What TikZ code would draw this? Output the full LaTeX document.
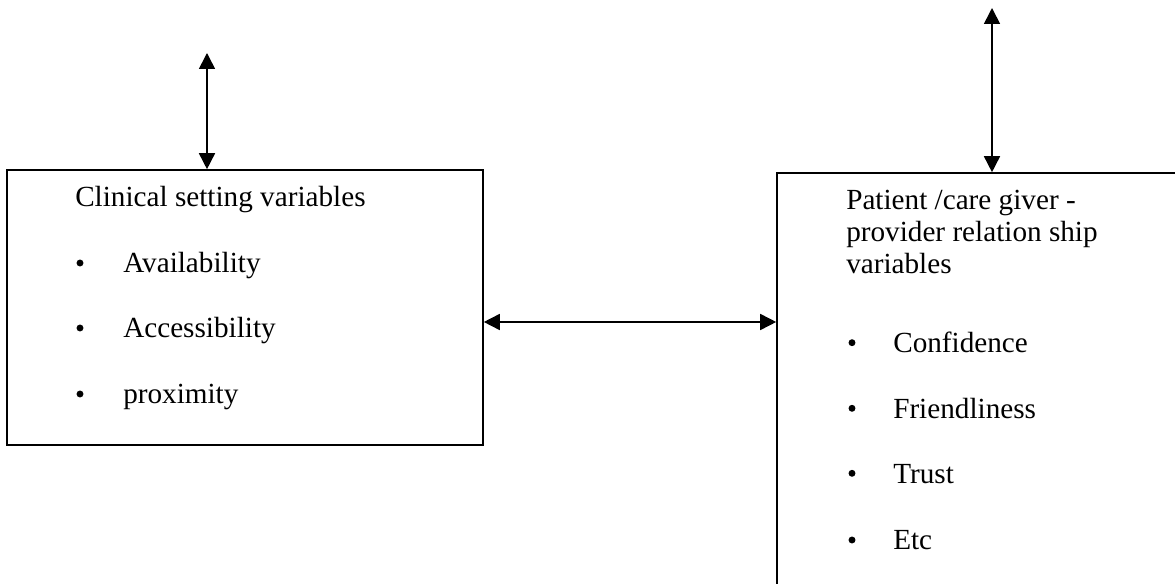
\documentclass[tikz,border=0pt]{standalone}
\usepackage{fontspec}
\setmainfont{Liberation Serif}
\usetikzlibrary{arrows.meta}

\begin{document}
\begin{tikzpicture}[x=0.75pt,y=-0.75pt]
    \tikzstyle{box}=[draw, line width=1.2pt, rectangle, inner sep=0pt]
    \tikzstyle{txt}=[anchor=base west, inner sep=0pt, font=\fontsize{21.9}{26}\selectfont]
    \tikzstyle{dot}=[circle, fill, inner sep=0pt, minimum size=5.2pt]
    \tikzstyle{link}=[line width=1.2pt, {Triangle[length=12pt,width=12pt]}-{Triangle[length=12pt,width=12pt]}]
    \useasboundingbox (0,0) rectangle (1175,584);
    \clip (0,0) rectangle (1175,584);
    \node[box, minimum width=357pt, minimum height=206.25pt] (cs) at (245,307.5) {};
    \node[box, minimum width=313.5pt, minimum height=335.25pt] (pr) at (986,396.5) {};

    \node[txt] (cshead) at (75,207) {Clinical setting variables};
    \node[dot] (csb1) at (80,263) {};
    \node[txt] (cs1) at (123,273) {Availability};
    \node[dot] (csb2) at (80,328) {};
    \node[txt] (cs2) at (123,338) {Accessibility};
    \node[dot] (csb3) at (80,394) {};
    \node[txt] (cs3) at (123,404) {proximity};

    \node[txt] (prhead1) at (846,210) {Patient /care giver -};
    \node[txt] (prhead2) at (846,241.7) {provider relation ship};
    \node[txt] (prhead3) at (846,273.3) {variables};
    \node[dot] (prb1) at (852,342.7) {};
    \node[txt] (pr1) at (893,352.7) {Confidence};
    \node[dot] (prb2) at (852,408.3) {};
    \node[txt] (pr2) at (893,418.3) {Friendliness};
    \node[dot] (prb3) at (852,473.3) {};
    \node[txt] (pr3) at (893,483.3) {Trust};
    \node[dot] (prb4) at (852,540) {};
    \node[txt] (pr4) at (893,550) {Etc};

    \coordinate (cstop) at (207,53);
    \coordinate (prtop) at (992,8);
    \coordinate (mid) at (630,322);
    \draw[link] (cstop) -- (cstop |- cs.north);
    \draw[link] (prtop) -- (prtop |- pr.north);
    \draw[link] (cs.east |- mid) -- (pr.west |- mid);
\end{tikzpicture}
\end{document}
